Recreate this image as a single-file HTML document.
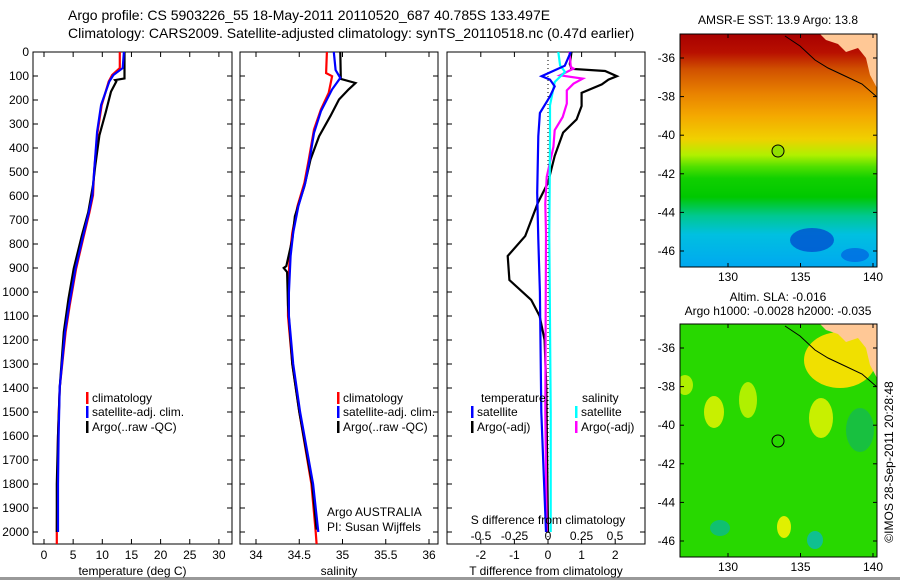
<!DOCTYPE html>
<html><head><meta charset="utf-8"><style>
body{margin:0;background:#fff;}
svg{display:block;font-family:"Liberation Sans",sans-serif;}
</style></head><body>
<svg id="s" width="900" height="580" viewBox="0 0 900 580">
<defs>
<linearGradient id="sst" x1="0" y1="0" x2="0" y2="1">
<stop offset="0" stop-color="#a80000"/><stop offset="0.08" stop-color="#b81000"/>
<stop offset="0.15" stop-color="#d05000"/><stop offset="0.25" stop-color="#e88000"/>
<stop offset="0.35" stop-color="#f4a800"/><stop offset="0.45" stop-color="#f0d000"/>
<stop offset="0.52" stop-color="#b0f000"/><stop offset="0.57" stop-color="#50e000"/>
<stop offset="0.62" stop-color="#10d000"/><stop offset="0.7" stop-color="#00c800"/>
<stop offset="0.78" stop-color="#00c890"/><stop offset="0.86" stop-color="#00c0e0"/>
<stop offset="1" stop-color="#00a8f0"/>
</linearGradient>
<clipPath id="c1"><rect x="680" y="34" width="197" height="233"/></clipPath>
<clipPath id="c2"><rect x="680" y="324" width="197" height="233"/></clipPath>
</defs>
<text x="68" y="20" font-size="14">Argo profile: CS 5903226_55 18-May-2011 20110520_687 40.785S 133.497E</text>
<text x="68" y="38" font-size="14">Climatology: CARS2009. Satellite-adjusted climatology: synTS_20110518.nc (0.47d earlier)</text>

<g>
<text x="778" y="24" font-size="12" text-anchor="middle">AMSR-E SST: 13.9 Argo: 13.8</text>
<g clip-path="url(#c1)">
<rect x="680" y="34" width="197" height="233" fill="url(#sst)"/>
<ellipse cx="812" cy="240" rx="22" ry="12" fill="#0050d0" opacity="0.8"/>
<ellipse cx="855" cy="255" rx="14" ry="7" fill="#0060e0" opacity="0.7"/>
<polygon points="820,34 877,34 877,88 870,75 866,58 858,48 846,52 838,44 826,40" fill="#ffc896"/>
<polyline points="785,36 800,46 815,60 828,68 845,76 862,84 877,97" fill="none" stroke="#000" stroke-width="1"/>
</g>
<rect x="680" y="34" width="197" height="233" fill="none" stroke="#000"/>
<circle cx="778" cy="151" r="6" fill="#90e000" stroke="#000"/>
</g>

<g>
<text x="778" y="301" font-size="12" text-anchor="middle">Altim. SLA: -0.016</text>
<text x="778" y="315" font-size="12" text-anchor="middle">Argo h1000: -0.0028 h2000: -0.035</text>
<g clip-path="url(#c2)">
<rect x="680" y="324" width="197" height="233" fill="#28d800"/>
<ellipse cx="714" cy="412" rx="10" ry="16" fill="#c8f000"/>
<ellipse cx="748" cy="400" rx="9" ry="18" fill="#b0f000"/>
<ellipse cx="821" cy="418" rx="12" ry="20" fill="#c8f000"/>
<ellipse cx="784" cy="527" rx="7" ry="11" fill="#e0f000"/>
<ellipse cx="685" cy="385" rx="8" ry="10" fill="#b0f000"/>
<ellipse cx="720" cy="528" rx="10" ry="8" fill="#10c070"/>
<ellipse cx="815" cy="540" rx="8" ry="9" fill="#10c090"/>
<ellipse cx="860" cy="430" rx="14" ry="22" fill="#18c040"/>
<ellipse cx="840" cy="360" rx="36" ry="28" fill="#f0e000"/>
<polygon points="820,324 877,324 877,378 870,365 866,348 858,338 846,342 838,334 826,330" fill="#ffc896"/>
<polyline points="785,326 800,336 815,350 828,358 845,366 862,374 877,387" fill="none" stroke="#000" stroke-width="1"/>
</g>
<rect x="680" y="324" width="197" height="233" fill="none" stroke="#000"/>
<circle cx="778" cy="441" r="6" fill="none" stroke="#000"/>
</g>
<text transform="translate(893,462) rotate(-90)" font-size="12" text-anchor="middle">©IMOS 28-Sep-2011 20:28:48</text>
<rect x="0" y="577" width="900" height="3" fill="#999"/>
<g id="g"></g>
</svg>
<script>
// ---- data ----
const depthTicks = [0,100,200,300,400,500,600,700,800,900,1000,1100,1200,1300,1400,1500,1600,1700,1800,1900,2000];
const tTicks = [0,5,10,15,20,25,30];
const sTicks = [34,34.5,35,35.5,36];
const dtTicks = [-2,-1,0,1,2];
const dsTicks = [-0.5,-0.25,0,0.25,0.5];
const dsTickLabels = ["-0.5","-0.25","0","0.25","0.5"];
const latTicks = [-36,-38,-40,-42,-44,-46];
const lonTicks = [130,135,140];

const tClimDepth = [0,67,96,123,221,333,500,597,667,778,903,1056,1167,1400,1600,1800,2000,2050];
const tClim = [13.0,13.0,11.7,11.1,9.9,9.2,8.6,8.4,7.8,6.7,5.5,4.4,3.7,2.7,2.4,2.3,2.2,2.2];
const tSatDepth = [0,67,96,123,221,333,500,597,667,778,903,1056,1167,1400,1600,1800,2000];
const tSat = [13.7,13.5,11.9,11.2,9.8,9.1,8.6,8.3,7.7,6.6,5.4,4.3,3.6,2.7,2.5,2.4,2.4];
const tArgoDepth = [0,110,117,123,165,250,347,472,555,667,764,903,1028,1167,1400,1600,1800,2000];
const tArgo = [13.8,13.8,12.2,12.4,11.5,10.6,9.5,8.8,8.4,7.6,6.5,5.1,4.2,3.4,2.7,2.4,2.2,2.2];

const sClimDepth = [0,88,101,170,240,323,448,545,642,753,850,1003,1100,1300,1500,1800,2000,2050];
const sClim = [34.82,34.81,34.88,34.84,34.75,34.67,34.61,34.56,34.48,34.42,34.39,34.37,34.37,34.42,34.5,34.64,34.69,34.70];
const sSatDepth = [0,75,108,156,247,337,448,545,642,753,850,1003,1100,1300,1500,1800,2000];
const sSat = [34.90,34.92,34.975,34.88,34.75,34.67,34.62,34.57,34.49,34.43,34.40,34.38,34.38,34.43,34.51,34.66,34.72];
const sArgoDepth = [0,112,129,156,198,267,351,448,559,684,781,892,900,917,1056,1300,1500,1800,1990];
const sArgo = [34.975,34.98,35.15,35.07,34.96,34.86,34.73,34.63,34.56,34.45,34.42,34.35,34.32,34.36,34.37,34.42,34.5,34.65,34.70];

const dtArgoDepth = [0,50,70,79,101,115,135,170,225,281,336,433,544,628,767,850,950,1033,1100,1200,1400,2000];
const dtArgo = [0.7,0.65,0.7,1.7,2.05,1.8,1.6,1.0,1.0,0.85,0.45,0.2,0,-0.3,-0.68,-1.2,-1.15,-0.5,-0.25,-0.1,-0.05,0];
const dtSatDepth = [0,57,101,115,143,185,254,351,587,781,1000,1500,2000];
const dtSat = [0.68,0.5,-0.19,0.06,0.2,0.06,-0.24,-0.29,-0.32,-0.29,-0.24,-0.2,-0.06];
const dsSatDepth = [0,56,83,125,222,361,764,1500,2000];
const dsSat = [0.077,0.09,0.127,0.05,0.015,0.015,0.01,0.02,0.02];
const dsArgoDepth = [0,62,69,97,111,132,160,215,271,326,396,521,632,757,1500,2000];
const dsArgo = [0.16,0.17,0.19,0.09,0.26,0.19,0.14,0.14,0.11,0.05,0.04,-0.01,-0.02,-0.015,-0.02,-0.01];

// ---- axes ----
const NS = "http://www.w3.org/2000/svg";
const root = document.getElementById('g');
const TOP = 52, BOT = 544;
const yD = d => TOP + d * 0.24;
const xT = v => 44 + v * 5.83;
const xS = v => 256 + (v - 34) * 86.5;
const xDT = v => 548 + v * 33.6;
const xDS = v => 548 + v * 134;
const yLat = v => 58 + (-36 - v) * 19.3;
const xLon = v => 728 + (v - 130) * 14.5;

function el(tag, attrs, parent) {
  const e = document.createElementNS(NS, tag);
  for (const k in attrs) e.setAttribute(k, attrs[k]);
  (parent || root).appendChild(e);
  return e;
}
function txt(x, y, s, anchor, size, parent) {
  const t = el('text', {x: x, y: y, 'font-size': size || 12, 'text-anchor': anchor || 'middle'}, parent);
  t.textContent = s;
  return t;
}

function panel(name, x0, x1, xTickVals, xf, xLabels, title, leftLabels) {
  const g = el('g', {});
  
  
  const fr = el('rect', {x: x0, y: TOP, width: x1 - x0, height: BOT - TOP, fill: 'none', stroke: '#000'}, g);
  
  
  depthTicks.forEach(d => {
    const y = yD(d);
    el('line', {x1: x0, x2: x0 + 5, y1: y, y2: y, stroke: '#000'}, g);
    el('line', {x1: x1 - 5, x2: x1, y1: y, y2: y, stroke: '#000'}, g);
    if (leftLabels) {
      const t = txt(x0 - 4, y + 4, String(d), 'end', 12, g);
      
      
    }
  });
  xTickVals.forEach((v, i) => {
    const x = xf(v);
    el('line', {x1: x, x2: x, y1: TOP, y2: TOP + 5, stroke: '#000'}, g);
    el('line', {x1: x, x2: x, y1: BOT - 5, y2: BOT, stroke: '#000'}, g);
    const t = txt(x, 559, xLabels[i], 'middle', 12, g);
    
    
  });
  const at = txt((x0 + x1) / 2, 575, title, 'middle', 12, g);
  
  
  return g;
}
function line(g, depths, vals, xf, color, name, w) {
  const pts = depths.map((d, i) => xf(vals[i]).toFixed(1) + ',' + yD(d).toFixed(1)).join(' ');
  const p = el('polyline', {points: pts, fill: 'none', stroke: color, 'stroke-width': w || 2.2}, g);
  
  
}
function legend(g, x, y, color, label) {
  const r = el('rect', {x: x, y: y - 10, width: 2.5, height: 12, fill: color}, g);
  
  
  const t = txt(x + 6, y, label, 'start', 12, g);
  
  
}

// Temperature panel
const p1 = panel('temperature-panel', 33, 232, tTicks, xT, tTicks.map(String), 'temperature (deg C)', true);
line(p1, tClimDepth, tClim, xT, '#ff0000', 'temp-climatology-line');
line(p1, tArgoDepth, tArgo, xT, '#000000', 'temp-argo-line');
line(p1, tSatDepth, tSat, xT, '#0000ff', 'temp-satellite-line');
legend(p1, 86, 402, '#ff0000', 'climatology');
legend(p1, 86, 416, '#0000ff', 'satellite-adj. clim.');
legend(p1, 86, 431, '#000000', 'Argo(..raw -QC)');

// Salinity panel
const p2 = panel('salinity-panel', 240, 438, sTicks, xS, sTicks.map(String), 'salinity', false);
line(p2, sClimDepth, sClim, xS, '#ff0000', 'sal-climatology-line');
line(p2, sArgoDepth, sArgo, xS, '#000000', 'sal-argo-line');
line(p2, sSatDepth, sSat, xS, '#0000ff', 'sal-satellite-line');
legend(p2, 337, 402, '#ff0000', 'climatology');
legend(p2, 337, 416, '#0000ff', 'satellite-adj. clim.');
legend(p2, 337, 431, '#000000', 'Argo(..raw -QC)');
const a1 = txt(327, 516, 'Argo AUSTRALIA', 'start', 12, p2);


const a2 = txt(327, 531, 'PI: Susan Wijffels', 'start', 12, p2);



// Difference panel
const p3 = panel('difference-panel', 447, 645, dtTicks, xDT, dtTicks.map(String), 'T difference from climatology', false);
const zl = el('line', {x1: xDT(0), x2: xDT(0), y1: TOP, y2: BOT, stroke: '#000', 'stroke-dasharray': '1,3'}, p3);


line(p3, dtArgoDepth, dtArgo, xDT, '#000000', 'tdiff-argo-line');
line(p3, dsArgoDepth, dsArgo, xDS, '#ff00ff', 'sdiff-argo-line');
line(p3, dsSatDepth, dsSat, xDS, '#00ffff', 'sdiff-satellite-line');
line(p3, dtSatDepth, dtSat, xDT, '#0000ff', 'tdiff-satellite-line');
dsTicks.forEach((v, i) => {
  const t = txt(xDS(v), 540, dsTickLabels[i], 'middle', 12, p3);
  
  
});
const st = txt(548, 524, 'S difference from climatology', 'middle', 12, p3);


const h1 = txt(481, 402, 'temperature', 'start', 12, p3);


const h2 = txt(582, 402, 'salinity', 'start', 12, p3);


legend(p3, 471, 416, '#0000ff', 'satellite');
legend(p3, 471, 431, '#000000', 'Argo(-adj)');
legend(p3, 575, 416, '#00ffff', 'satellite');
legend(p3, 575, 431, '#ff00ff', 'Argo(-adj)');

// Map axes
[[34, 267, 0, 281], [324, 557, 290, 571]].forEach((m, mi) => {
  const g = el('g', {});
  
  
  latTicks.forEach(v => {
    const y = yLat(v) + m[2];
    el('line', {x1: 680, x2: 684, y1: y, y2: y, stroke: '#000'}, g);
    el('line', {x1: 873, x2: 877, y1: y, y2: y, stroke: '#000'}, g);
    const t = txt(675, y + 4, String(v), 'end', 12, g);
    
    
  });
  lonTicks.forEach(v => {
    const x = xLon(v);
    el('line', {x1: x, x2: x, y1: m[0], y2: m[0] + 4, stroke: '#000'}, g);
    el('line', {x1: x, x2: x, y1: m[1] - 4, y2: m[1], stroke: '#000'}, g);
    const t = txt(x, m[3], String(v), 'middle', 12, g);
    
    
  });
});
</script>
</body></html>
